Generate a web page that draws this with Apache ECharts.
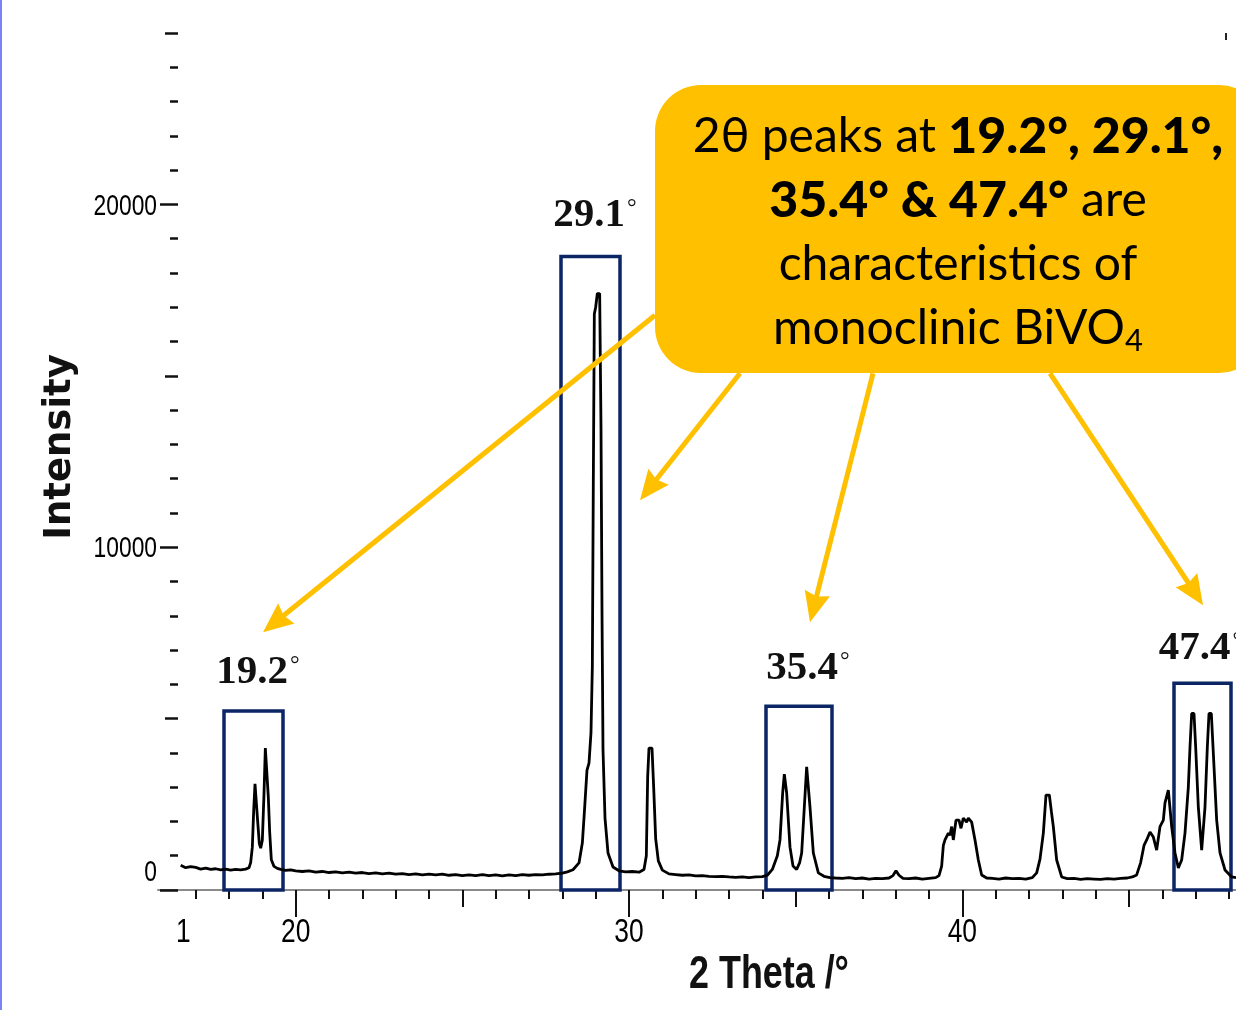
<!DOCTYPE html>
<html><head><meta charset="utf-8">
<script src="https://cdn.jsdelivr.net/npm/echarts@6/dist/echarts.min.js"></script>
<style>html,body{margin:0;padding:0;background:#fff;overflow:hidden}#c{width:1236px;height:1010px}</style>
</head><body><div id="c"></div>
<script>
// ---- data ----
const twoTheta = [16.55,16.70,16.85,17.00,17.15,17.30,17.45,17.60,17.75,17.90,18.05,18.20,18.35,18.50,18.60,18.65,18.70,18.74,18.78,18.82,18.86,18.91,18.95,19.00,19.05,19.09,19.14,19.18,19.22,19.27,19.35,19.45,19.55,19.70,19.85,20.00,20.20,20.40,20.60,20.80,21.00,21.20,21.40,21.60,21.80,22.00,22.20,22.40,22.60,22.80,23.00,23.20,23.40,23.60,23.80,24.00,24.20,24.40,24.60,24.80,25.00,25.20,25.40,25.60,25.80,26.00,26.20,26.40,26.60,26.80,27.00,27.20,27.40,27.60,27.80,28.00,28.15,28.32,28.50,28.60,28.66,28.74,28.80,28.86,28.90,28.93,28.96,29.00,29.05,29.12,29.16,29.19,29.22,29.28,29.37,29.52,29.70,29.90,30.10,30.30,30.45,30.52,30.56,30.60,30.69,30.74,30.80,30.88,31.00,31.20,31.40,31.60,31.80,32.00,32.20,32.40,32.60,32.80,33.00,33.20,33.40,33.60,33.80,34.00,34.15,34.30,34.45,34.53,34.61,34.66,34.73,34.83,34.92,35.03,35.12,35.18,35.26,35.33,35.43,35.53,35.68,35.85,36.03,36.20,36.40,36.60,36.80,37.00,37.20,37.40,37.60,37.80,37.92,38.01,38.10,38.22,38.40,38.60,38.80,39.00,39.20,39.30,39.38,39.43,39.48,39.53,39.58,39.63,39.68,39.73,39.81,39.90,39.96,40.03,40.13,40.18,40.28,40.38,40.48,40.58,40.73,40.90,41.10,41.30,41.50,41.70,41.90,42.10,42.23,42.33,42.43,42.51,42.61,42.67,42.73,42.83,42.98,43.15,43.35,43.55,43.75,43.95,44.15,44.35,44.55,44.75,44.95,45.10,45.23,45.35,45.45,45.53,45.63,45.73,45.83,45.93,46.03,46.08,46.18,46.28,46.38,46.48,46.58,46.68,46.78,46.83,46.88,46.95,47.00,47.08,47.18,47.28,47.35,47.40,47.47,47.53,47.63,47.73,47.88,48.08,48.21];
const intensity = [720,650,680,660,610,640,600,620,590,610,580,600,590,610,650,800,1250,2300,3100,3050,2000,1350,1220,1450,2800,4140,4100,2700,1700,880,690,630,600,570,590,560,540,560,520,540,510,530,500,520,490,510,480,500,470,490,460,480,450,470,440,460,440,460,430,450,420,440,420,450,420,440,410,440,420,450,430,450,440,460,470,490,530,590,790,1370,2250,3500,3700,4600,6500,12000,16800,17000,17400,17400,13500,8100,4100,2100,1080,670,560,530,540,520,600,1000,3300,4140,4140,3000,1500,850,580,470,450,430,440,410,420,400,390,400,380,370,380,360,380,390,430,600,1000,1460,2830,3380,2830,1250,700,600,800,1080,2420,3590,2420,1080,500,400,360,350,340,360,330,350,320,340,330,350,420,560,430,340,330,350,320,340,360,420,700,1300,1460,1500,1660,1600,1850,1460,2040,2040,1800,2100,1980,2100,1980,1460,875,437,350,340,320,350,330,340,320,360,500,900,1660,2770,2770,2300,1850,875,380,330,340,310,330,320,310,330,320,340,350,380,440,800,1300,1460,1690,1545,1165,1850,2040,2540,2915,1850,1080,640,875,1660,3000,4170,5150,5150,4170,2420,1165,2420,4170,5150,5150,3990,2040,1080,583,380,360];

const xTicksMinor = [17,18,19,20,21,22,23,24,25,26,27,28,29,30,31,32,33,34,35,36,37,38,39,40,41,42,43,44,45,46,47,48];
const xTicksMid = [20,25,30,35,40,45];
const xTicksMajor = [20,30,40];
const yTicksMinor = [1000,2000,3000,4000,6000,7000,8000,9000,11000,12000,13000,14000,16000,17000,18000,19000,21000,22000,23000,24000];
const yTicksMid = [5000,15000,25000];
const yTicksMajor = [0,10000,20000];

// highlighted peak regions: [2θ from, 2θ to, box top intensity]
const boxFrom = [17.85, 27.96, 34.11, 46.35];
const boxTo = [19.62, 29.73, 36.09, 48.06];
const boxTop = [5220, 18480, 5360, 6030];
// peak labels and their anchor (2θ, intensity)
const peakNames = ['19.2', '29.1', '35.4', '47.4'];
const peakLabelX = [18.87, 28.98, 35.37, 47.14];
const peakLabelY = [6350, 19680, 6470, 7050];
// arrows from the callout to peaks: start (2θ, I) -> arrow tip (2θ, I)
const arrowX0 = [30.78, 33.33, 37.32, 42.63];
const arrowY0 = [16765, 15073, 15073, 15073];
const arrowX1 = [19.02, 30.33, 35.43, 47.22];
const arrowY1 = [7522, 11370, 7814, 8309];

// ---- chart ----
const X_MIN = 15.87, X_MAX = 48.21;
const ARROW_LEN = 30;
const chart = echarts.init(document.getElementById('c'));

function xAx(ticks, len, showLine) {
  return {
    type: 'value', min: X_MIN, max: X_MAX, position: 'bottom',
    axisLine: { show: showLine, onZero: false, lineStyle: { color: '#8a8a8a', width: 2 } },
    axisTick: { show: true, customValues: ticks, length: len, lineStyle: { color: '#111', width: 2 } },
    axisLabel: { show: false },
    splitLine: { show: false }
  };
}
function yAx(ticks, len) {
  return {
    type: 'value', min: 0, max: 25000, position: 'left', offset: -20,
    axisLine: { show: false },
    axisTick: { show: true, customValues: ticks, length: len, lineStyle: { color: '#111', width: 2.5 } },
    axisLabel: { show: false },
    splitLine: { show: false }
  };
}

const curve = twoTheta.map((x, i) => [x, intensity[i]]);

const baseGraphic = [
  { type: 'rect', z: 1, left: 0, top: 0, shape: { width: 2, height: 1010 }, style: { fill: '#7b82f5' } },
  { type: 'rect', z: 1, left: 1225, top: 33, shape: { width: 2, height: 7 }, style: { fill: '#222' } },
  { type: 'text', z: 10, x: 769, y: 975, scaleX: 0.78, style: { text: '2 Theta /°', font: "bold 46px 'Liberation Sans', Arial, sans-serif", fill: '#111', textAlign: 'center', textVerticalAlign: 'middle' } },
  { type: 'text', z: 10, x: 60, y: 447, rotation: Math.PI / 2, style: { text: 'Intensity', font: "bold 37px 'DejaVu Sans', sans-serif", fill: '#111', textAlign: 'center', textVerticalAlign: 'middle' } },
  {
    type: 'group', z: 100,
    children: [
      { type: 'rect', z: 100, shape: { x: 655, y: 85, width: 610, height: 288, r: 46 }, style: { fill: '#FFC000' } },
      {
        type: 'text', z: 101, x: 958, y: 233,
        style: {
          text: '{r|2θ peaks at }{b|19.2°, 29.1°,}\n{b|35.4° & 47.4°}{r| are}\n{r|characteristics of}\n{r|monoclinic BiVO}{s|4}',
          textAlign: 'center', textVerticalAlign: 'middle', fill: '#000',
          font: "48px Lato, sans-serif", lineHeight: 64,
          rich: {
            r: { fontFamily: 'Lato, sans-serif', fontSize: 48, fill: '#000', lineHeight: 64 },
            b: { fontFamily: 'Lato, sans-serif', fontSize: 50, fontWeight: 900, fill: '#000', lineHeight: 64 },
            s: { fontFamily: 'Lato, sans-serif', fontSize: 31, fill: '#000', lineHeight: 64, padding: [24, 0, 0, 0] }
          }
        }
      }
    ]
  }
];

function arrowData(pullBackPx) {
  return arrowX0.map((x, i) => {
    let ex = arrowX1[i], ey = arrowY1[i];
    if (pullBackPx) {
      const p0 = chart.convertToPixel({ xAxisIndex: 0, yAxisIndex: 0 }, [x, arrowY0[i]]);
      const p1 = chart.convertToPixel({ xAxisIndex: 0, yAxisIndex: 0 }, [ex, ey]);
      const dx = p1[0] - p0[0], dy = p1[1] - p0[1], d = Math.hypot(dx, dy);
      const q = [p1[0] - dx / d * pullBackPx, p1[1] - dy / d * pullBackPx];
      const v = chart.convertFromPixel({ xAxisIndex: 0, yAxisIndex: 0 }, q);
      ex = v[0]; ey = v[1];
    }
    return [{ coord: [x, arrowY0[i]] }, { coord: [ex, ey] }];
  });
}

const option = {
  animation: false,
  backgroundColor: '#ffffff',
  grid: { left: 158, right: 0, top: 33, bottom: 120, containLabel: false },
  xAxis: [xAx(xTicksMinor, 9, true), xAx(xTicksMid, 17, false), xAx(xTicksMajor, 27, false)],
  yAxis: [yAx(yTicksMinor, 8), yAx(yTicksMid, 13), yAx(yTicksMajor, 18)],
  series: [
    {
      type: 'line', data: curve, showSymbol: false, symbol: 'none', smooth: false, z: 3,
      lineStyle: { color: '#000', width: 2.8 }
    },
    {
      type: 'line', data: [], z: 4, silent: true,
      markArea: {
        silent: true,
        itemStyle: { color: 'rgba(0,0,0,0)', borderColor: '#0b2565', borderWidth: 3.5 },
        data: boxFrom.map((x, i) => [{ xAxis: x, yAxis: 0 }, { xAxis: boxTo[i], yAxis: boxTop[i] }])
      },
      markPoint: {
        silent: true, symbol: 'rect', symbolSize: 1, itemStyle: { color: 'rgba(0,0,0,0)' },
        label: {
          show: true, position: 'inside', formatter: '{n|{b}}{d|°}',
          rich: {
            n: { fontFamily: "'Liberation Serif','Times New Roman',serif", fontWeight: 'bold', fontSize: 41, color: '#111' },
            d: { fontFamily: "'Liberation Serif','Times New Roman',serif", fontSize: 24, color: '#111', padding: [0, 0, 14, 2] }
          }
        },
        data: peakNames.map((n, i) => ({ name: n, coord: [peakLabelX[i], peakLabelY[i]] }))
      }
    },
    {
      type: 'line', data: [], z: 6, silent: true,
      markLine: {
        silent: true, symbol: ['none', 'path://M5,0L10,12L5,10.6L0,12Z'], symbolSize: [26, ARROW_LEN],
        label: { show: false },
        lineStyle: { color: '#FFC000', width: 5, type: 'solid' },
        itemStyle: { color: '#FFC000' },
        data: arrowData(0)
      }
    }
  ],
  graphic: baseGraphic
};
chart.setOption(option);

// tick labels placed through the axes' own scales (condensed like the original)
const tickFont = "'Liberation Sans', Arial, sans-serif";
const xPix = v => chart.convertToPixel({ xAxisIndex: 0 }, v);
const yPix = v => chart.convertToPixel({ yAxisIndex: 0 }, v);
const labelGraphic = [];
const yLabX = xPix(X_MIN) - 1;
yTicksMajor.forEach(v => {
  labelGraphic.push({ type: 'text', z: 10, x: yLabX, y: yPix(v) + (v === 0 ? -17 : 2), scaleX: 0.76,
    style: { text: String(v), font: "30px " + tickFont, fill: '#000', textAlign: 'right', textVerticalAlign: 'middle' } });
});
xTicksMajor.forEach(v => {
  labelGraphic.push({ type: 'text', z: 10, x: xPix(v), y: yPix(0) + 26, scaleX: 0.8,
    style: { text: String(v), font: "33px " + tickFont, fill: '#000', textAlign: 'center', textVerticalAlign: 'top' } });
});
// clipped leftover label at the left end of the x axis
labelGraphic.push({ type: 'text', z: 10, x: xPix(16.63), y: yPix(0) + 26, scaleX: 0.8,
  style: { text: '1', font: "33px " + tickFont, fill: '#000', textAlign: 'center', textVerticalAlign: 'top' } });

option.graphic = baseGraphic.concat(labelGraphic);
// arrow symbols are centred on the line end: pull the end back so the tip lands on the target
option.series[2].markLine.data = arrowData(ARROW_LEN / 2);
chart.setOption(option, { notMerge: true });
</script>
</body></html>
